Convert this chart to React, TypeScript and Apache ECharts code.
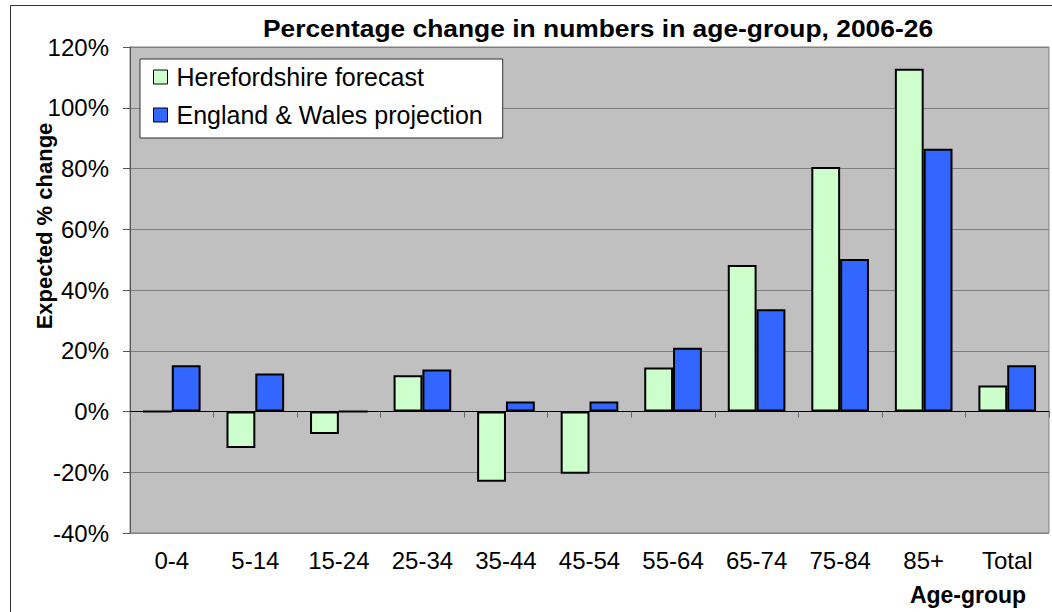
import React, { useEffect, useRef } from "react";
import * as echarts from "echarts";

const categories = ["0-4", "5-14", "15-24", "25-34", "35-44", "45-54", "55-64", "65-74", "75-84", "85+", "Total"];
const herefordshire = [0, -12.0, -7.4, 11.9, -23.1, -20.5, 14.5, 48.2, 80.5, 112.8, 8.6];
const englandWales = [15.2, 12.5, 0, 13.8, 3.3, 3.3, 21.0, 33.7, 50.2, 86.5, 15.2];
const yTicks = { min: -40, max: 120, interval: 20 };
const titleText = "Percentage change in numbers in age-group, 2006-26";
const yName = "Expected % change";
const xName = "Age-group";
const seriesNames = ["Herefordshire forecast", "England & Wales projection"];

const FONT = "'Liberation Sans', Arial, sans-serif";

export default function App() {
  const ref = useRef<HTMLDivElement>(null);
  useEffect(() => {
    if (!ref.current) return;
    const chart = echarts.init(ref.current, undefined, { renderer: "svg" });
    chart.setOption({
      animation: false,
      textStyle: { fontFamily: FONT },
      grid: {
        left: 130,
        right: 3,
        top: 47,
        bottom: 79,
        show: true,
        backgroundColor: "#C0C0C0",
        borderColor: "#808080",
        borderWidth: 1,
        containLabel: false,
      },
      legend: {
        orient: "vertical",
        left: 140,
        top: 59,
        padding: [5, 20, 10, 13],
        itemGap: 12,
        itemWidth: 14,
        itemHeight: 14,
        backgroundColor: "#FFFFFF",
        borderColor: "#333333",
        borderWidth: 1,
        icon: "rect",
        itemStyle: { borderColor: "#000", borderWidth: 1 },
        textStyle: { fontFamily: FONT, fontSize: 25, color: "#000", lineHeight: 26, padding: [0, 0, 0, 4] },
        data: seriesNames,
      },
      xAxis: [
        {
          type: "category",
          data: categories,
          position: "bottom",
          axisLine: { show: true, onZero: true, lineStyle: { color: "#000", width: 1 } },
          axisTick: { show: true, length: 6, inside: false, alignWithLabel: false, lineStyle: { color: "#666" } },
          axisLabel: { show: false },
          splitLine: { show: false },
        },
        {
          type: "category",
          data: categories,
          position: "bottom",
          axisLine: { show: false, onZero: false },
          axisTick: { show: false },
          axisLabel: { show: true, fontFamily: FONT, fontSize: 24, color: "#000", margin: 15 },
          splitLine: { show: false },
        },
      ],
      yAxis: {
        type: "value",
        min: yTicks.min,
        max: yTicks.max,
        interval: yTicks.interval,
        axisLine: { show: true, lineStyle: { color: "#555", width: 1 } },
        axisTick: { show: true, length: 7, inside: false, lineStyle: { color: "#555" } },
        axisLabel: { fontFamily: FONT, fontSize: 24, color: "#000", margin: 21, formatter: (v: number) => `${v}%` },
        splitLine: { show: true, lineStyle: { color: "#808080", width: 1 } },
      },
      series: [
        {
          name: seriesNames[0],
          type: "bar",
          xAxisIndex: 0,
          data: herefordshire,
          barGap: "0%",
          barCategoryGap: "31%",
          itemStyle: { color: "#CCFFCC", borderColor: "#000", borderWidth: 2 },
        },
        {
          name: seriesNames[1],
          type: "bar",
          xAxisIndex: 0,
          data: englandWales,
          barGap: "0%",
          barCategoryGap: "31%",
          itemStyle: { color: "#3366FF", borderColor: "#000", borderWidth: 2 },
        },
      ],
      graphic: [
        {
          type: "rect",
          shape: { x: 10.5, y: 5.5, width: 1100, height: 700 },
          style: { fill: "none", stroke: "#333", lineWidth: 1 },
          silent: true,
          z: 0,
        },
        {
          type: "text",
          x: 598,
          y: 28,
          scaleX: 1.1,
          style: { text: titleText, font: `bold 24px ${FONT}`, fill: "#000", align: "center", verticalAlign: "middle" },
        },
        {
          type: "text",
          x: 44,
          y: 226,
          rotation: Math.PI / 2,
          style: { text: yName, font: `bold 22px ${FONT}`, fill: "#000", align: "center", verticalAlign: "middle" },
        },
        {
          type: "text",
          x: 968,
          y: 595,
          style: { text: xName, font: `bold 23px ${FONT}`, fill: "#000", align: "center", verticalAlign: "middle" },
        },
      ],
    });
    return () => chart.dispose();
  }, []);
  return <div ref={ref} style={{ position: "fixed", left: 0, top: 0, width: 1052, height: 612, background: "#fff" }} />;
}
